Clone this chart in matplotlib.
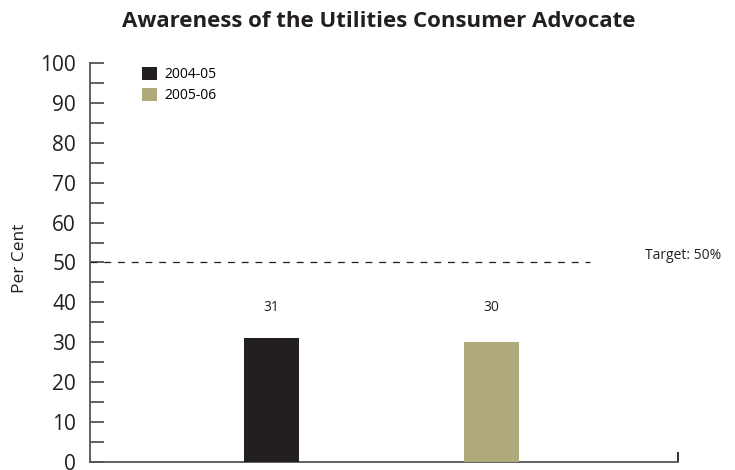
import matplotlib.pyplot as plt
from matplotlib.ticker import MultipleLocator

years = ['2004-05', '2005-06']
values = [31, 30]
colors = ['#231f20', '#b0a97c']
target = 50

plt.rcParams['font.family'] = ['Open Sans', 'DejaVu Sans']


def main():
  fig = plt.figure(figsize=(7.35, 4.7), dpi=100)
  ax = fig.add_axes([0.1224, 0.017, 0.80, 0.849])

  xpos = [2.47, 5.46]
  for x, v, c, lab in zip(xpos, values, colors, years):
    ax.bar(x, v, width=0.75, color=c, label=lab, zorder=3)
    ax.text(x, 38.8, str(v), ha='center', va='center', fontsize=10, color='#231f20')

  ax.plot([0, 6.8], [target, target], linestyle=(0, (5.5, 5.5)), color='#231f20', lw=0.9)
  ax.text(7.55, target + 1.8, 'Target: 50%', ha='left', va='center', fontsize=10,
          color='#231f20')

  ax.set_xlim(0, 8)
  ax.set_ylim(0, 100)
  ax.yaxis.set_major_locator(MultipleLocator(10))
  ax.yaxis.set_minor_locator(MultipleLocator(5))
  ax.tick_params(axis='y', which='both', direction='in', length=10, width=1.3,
                 color='#555555', labelsize=15, pad=10, labelcolor='#231f20')
  ax.set_xticks([8])
  ax.set_xticklabels([''])
  ax.tick_params(axis='x', direction='in', length=7, width=1.3, color='#231f20')

  for s in ['top', 'right']:
    ax.spines[s].set_visible(False)
  for s in ['left', 'bottom']:
    ax.spines[s].set_color('#555555')
    ax.spines[s].set_linewidth(1.3)

  ax.set_ylabel('Per Cent', fontsize=12.5, color='#231f20')
  ax.yaxis.set_label_coords(-0.105, 0.51)

  fig.suptitle('Awareness of the Utilities Consumer Advocate', x=0.515, y=0.977,
               fontsize=16, fontweight='bold', color='#231f20')

  ax.legend(loc='upper left', bbox_to_anchor=(0.088, 0.99), frameon=False,
            handlelength=1.1, handleheight=1.1, handletextpad=0.5,
            labelspacing=0.4, borderpad=0, borderaxespad=0,
            prop={'size': 10})

  plt.savefig('out.png', dpi=100)


if __name__ == '__main__':
  main()
